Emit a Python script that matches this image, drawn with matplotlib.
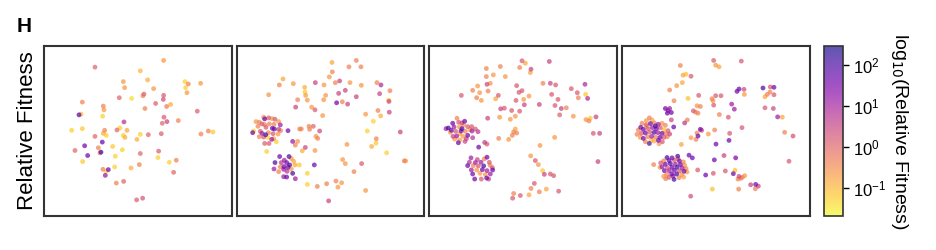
import numpy as np
import matplotlib
matplotlib.use("Agg")
import matplotlib.pyplot as plt
from matplotlib.colors import LogNorm
from matplotlib.cm import ScalarMappable

plt.rcParams['font.family'] = ['Liberation Sans', 'DejaVu Sans']

# embedding coordinates (dim1, dim2) and relative fitness of each cell, one list per time point
pts1 = [
    (15.3, 44.3, 1.0), (35.9, 46.3, 0.22), (28.9, 43.2, 0.1), (23.8, 40.0, 0.22), (31.1, 40.5, 0.12),
    (24.2, 38.2, 0.22), (32.9, 37.9, 0.22), (42.3, 40.0, 0.05), (43.3, 39.3, 0.4), (47.0, 39.5, 0.2),
    (42.5, 38.2, 0.05), (42.9, 36.7, 0.22), (30.0, 36.3, 1.0), (29.7, 35.8, 0.4), (22.6, 35.2, 1.0),
    (26.3, 35.0, 0.04), (35.9, 35.9, 1.5), (35.8, 34.7, 2.0), (33.5, 33.5, 1.2), (11.5, 33.9, 0.4),
    (17.8, 32.7, 0.4), (18.0, 31.6, 0.2), (30.3, 32.0, 0.4), (36.8, 32.6, 0.5), (38.0, 33.2, 0.12),
    (46.0, 31.2, 1.3), (10.5, 30.1, 60), (11.1, 30.3, 0.1), (17.6, 29.7, 0.05), (36.0, 29.4, 1.5),
    (35.5, 27.6, 1.0), (36.9, 28.1, 3), (40.3, 28.4, 0.4), (24.0, 28.0, 6), (8.3, 25.5, 0.05),
    (11.5, 26.0, 0.06), (18.2, 25.5, 0.4), (17.8, 24.6, 0.12), (18.7, 24.0, 0.05), (21.9, 25.6, 1.0),
    (22.8, 26.2, 0.05), (24.9, 25.5, 0.15), (23.8, 24.0, 0.05), (24.3, 23.4, 0.12), (15.3, 23.7, 1.0),
    (28.9, 24.3, 0.05), (31.3, 24.2, 1.0), (35.2, 24.5, 1.2), (27.9, 22.8, 0.12), (47.1, 24.4, 0.4),
    (49.3, 25.3, 0.4), (50.7, 25.0, 0.06), (17.5, 22.0, 50), (12.2, 20.9, 40), (16.3, 20.3, 0.4),
    (20.6, 20.7, 0.06), (23.5, 19.7, 0.05), (9.3, 19.5, 1.0), (17.1, 19.0, 100), (16.8, 18.8, 0.4),
    (13.1, 18.0, 40), (28.9, 18.6, 1.0), (34.4, 19.3, 1.3), (21.4, 17.8, 0.05), (34.2, 17.4, 0.05),
    (11.6, 16.2, 0.06), (28.6, 15.3, 0.4), (37.6, 16.0, 0.05), (39.7, 16.6, 0.4), (21.2, 14.6, 0.05),
    (26.1, 14.3, 0.12), (17.7, 13.9, 0.4), (19.3, 13.8, 40), (18.7, 13.3, 0.05), (18.4, 12.1, 15),
    (38.9, 13.0, 1.0), (21.7, 9.8, 0.4), (23.9, 10.3, 1.0), (27.8, 4.8, 1.3), (29.6, 5.3, 1.8),
]

pts2 = [
    (28.6, 45.7, 0.15), (35.9, 46.3, 0.4), (33.7, 44.4, 0.4), (37.3, 44.4, 0.4), (28.7, 42.9, 0.4),
    (13.9, 40.8, 0.15), (27.8, 41.4, 0.22), (12.8, 39.0, 0.4), (17.0, 39.4, 0.22), (23.6, 39.7, 3),
    (26.2, 39.0, 0.22), (29.6, 39.7, 0.4), (30.9, 40.2, 3), (34.0, 39.7, 0.22), (37.4, 38.9, 0.22),
    (42.1, 39.7, 0.4), (43.3, 39.0, 8), (20.4, 38.3, 0.12), (20.5, 36.9, 0.06), (20.7, 35.9, 0.2),
    (32.6, 37.4, 3), (30.6, 36.5, 3), (26.7, 35.9, 0.22), (46.0, 37.3, 0.4), (42.9, 36.4, 3),
    (35.9, 35.5, 3), (9.6, 36.1, 0.22), (18.3, 34.6, 0.4), (21.2, 34.5, 0.22), (26.1, 34.6, 0.22),
    (30.0, 33.7, 40), (31.7, 34.0, 0.4), (33.3, 33.3, 3), (45.7, 34.1, 3), (45.6, 34.5, 0.05),
    (17.7, 32.4, 3), (22.5, 32.4, 0.22), (23.5, 31.6, 1.5), (42.4, 31.4, 0.4), (45.8, 30.9, 3),
    (38.7, 30.3, 0.22), (43.2, 29.8, 0.12), (25.8, 29.9, 0.22), (41.0, 28.2, 0.05), (39.2, 25.3, 0.05),
    (49.1, 25.0, 3), (41.9, 23.0, 0.4), (41.8, 21.7, 0.06), (40.5, 20.7, 0.12), (45.0, 18.8, 0.05),
    (50.3, 16.4, 0.4), (50.7, 16.4, 0.22), (21.7, 26.7, 0.4), (23.0, 26.7, 1.0), (21.9, 25.8, 0.4),
    (24.9, 25.3, 2.5), (18.9, 25.9, 0.4), (19.4, 25.9, 0.4), (15.4, 25.4, 40), (23.8, 23.7, 0.22),
    (24.3, 23.1, 0.4), (16.8, 22.2, 15), (18.3, 22.2, 0.22), (17.6, 21.1, 0.4), (20.6, 20.4, 3),
    (19.7, 19.4, 0.12), (23.5, 19.5, 0.22), (33.1, 21.3, 0.22), (31.8, 16.8, 0.22), (32.6, 15.6, 0.22),
    (37.5, 15.6, 1.5), (35.2, 13.2, 0.4), (23.3, 15.2, 40), (21.2, 12.7, 0.05), (17.6, 11.1, 12),
    (21.2, 9.4, 0.05), (24.2, 8.8, 0.4), (27.0, 9.6, 0.4), (29.8, 10.4, 0.4), (31.5, 9.9, 0.22),
    (30.4, 8.6, 0.22), (38.7, 7.6, 0.22), (27.6, 4.5, 3),
    # cluster A
    (8.1, 29.4, 0.22), (8.4, 28.9, 40), (9.6, 29.2, 1.5), (10.6, 29.0, 0.22), (11.5, 28.8, 1.5),
    (6.8, 27.9, 0.4), (5.8, 28.1, 0.22), (7.6, 27.4, 1.5), (8.4, 27.2, 0.4), (9.8, 27.4, 0.4),
    (11.2, 27.3, 0.4), (12.6, 28.1, 0.22), (13.1, 27.1, 12), (6.4, 26.7, 0.4), (8.8, 26.4, 1.5),
    (10.7, 26.1, 40), (11.3, 25.9, 50), (12.6, 25.8, 3), (13.2, 25.4, 0.4), (4.8, 24.8, 40),
    (5.1, 25.3, 0.05), (7.1, 25.2, 1.5), (7.6, 24.6, 12), (8.7, 24.2, 100), (9.5, 24.8, 0.4),
    (10.9, 24.5, 1.5), (12.4, 24.4, 0.22), (6.8, 23.6, 0.4), (8.1, 23.5, 1.5), (9.3, 23.4, 0.05),
    (10.5, 22.8, 12), (11.9, 22.1, 0.05), (8.4, 21.6, 1.2), (9.7, 21.6, 1.5), (11.1, 23.0, 0.22),
    (9.0, 19.2, 0.05),
    # cluster B
    (12.9, 17.7, 40), (15.7, 17.7, 100), (16.4, 17.1, 0.22), (14.3, 16.6, 12), (17.1, 16.3, 0.15),
    (11.5, 15.9, 100), (13.4, 15.9, 5), (15.0, 15.9, 40), (15.9, 15.2, 100), (17.5, 15.2, 0.15),
    (18.8, 15.2, 0.06), (13.1, 14.6, 0.4), (14.2, 14.7, 40), (15.4, 14.5, 40), (11.2, 14.0, 12),
    (14.1, 13.9, 12), (16.4, 14.0, 0.22), (15.1, 13.3, 5), (16.8, 12.7, 100), (14.1, 11.7, 12),
    (15.0, 11.6, 40), (12.6, 13.2, 0.4),
]

pts3 = [
    (27.8, 46.2, 1.5), (28.8, 45.5, 0.15), (36.0, 46.0, 3), (21.3, 44.5, 0.4), (27.1, 44.2, 0.4),
    (30.5, 43.7, 3), (30.3, 42.7, 0.15), (17.1, 43.9, 0.4), (19.2, 42.0, 0.22), (22.8, 41.5, 0.22),
    (17.1, 41.5, 0.4), (18.3, 39.5, 0.22), (17.3, 39.2, 3), (26.2, 38.8, 1.5), (34.1, 39.5, 0.4),
    (36.3, 39.5, 3), (37.9, 39.0, 1.5), (42.6, 37.9, 1.5), (46.7, 39.2, 8), (14.5, 38.7, 0.22),
    (13.0, 37.4, 0.4), (15.1, 36.7, 0.22), (17.6, 37.2, 0.4), (9.6, 35.9, 1.5), (26.9, 36.8, 1.5),
    (27.8, 37.3, 1.5), (29.9, 35.7, 0.22), (20.7, 35.9, 1.5), (14.2, 35.2, 0.4), (15.6, 34.4, 0.22),
    (19.9, 34.9, 0.15), (26.0, 34.4, 1.5), (28.3, 34.7, 0.22), (36.7, 36.2, 1.5), (44.4, 36.7, 1.5),
    (44.7, 35.2, 0.4), (46.9, 36.2, 0.06), (47.5, 35.0, 8), (28.5, 33.1, 3), (33.0, 33.2, 3),
    (38.6, 34.7, 1.5), (37.7, 32.9, 1.5), (39.6, 32.0, 3), (41.1, 32.2, 0.4), (21.4, 31.9, 3),
    (22.5, 32.1, 1.5), (24.7, 31.4, 1.5), (27.1, 31.2, 1.5), (39.1, 30.1, 1.2), (43.2, 29.7, 0.22),
    (47.0, 28.7, 0.22), (47.9, 28.3, 0.4), (48.3, 29.1, 0.06), (50.0, 29.5, 3), (17.5, 29.1, 3),
    (21.1, 29.4, 0.22), (24.3, 28.8, 0.22), (25.8, 29.7, 0.22), (25.8, 25.9, 0.15), (25.3, 25.0, 0.4),
    (26.2, 24.7, 0.4), (24.9, 24.0, 0.4), (23.8, 22.8, 0.22), (20.8, 23.1, 0.4), (37.6, 23.4, 0.22),
    (49.2, 24.6, 1.5), (51.1, 24.6, 3), (16.6, 21.9, 4), (17.3, 21.4, 1.5), (14.8, 20.5, 40),
    (33.2, 21.0, 0.22), (30.4, 17.9, 0.22), (31.8, 16.5, 1.5), (32.7, 15.3, 0.22), (50.6, 16.2, 3),
    (34.0, 13.5, 0.06), (34.5, 12.4, 3), (36.3, 12.5, 1.5), (37.3, 12.0, 1.5), (31.5, 9.7, 1.5),
    (30.5, 8.2, 0.4), (35.1, 8.0, 0.15), (33.0, 7.2, 0.4), (38.8, 7.4, 1.5), (29.9, 6.3, 0.15),
    (27.3, 6.1, 1.5), (25.3, 6.7, 0.4), (25.0, 5.3, 1.5),
    # cluster A
    (8.3, 29.1, 0.4), (7.0, 27.6, 40), (8.8, 27.9, 1.5), (9.8, 27.7, 3), (10.6, 28.2, 40),
    (10.3, 27.1, 0.22), (5.7, 26.2, 100), (7.4, 26.5, 12), (9.0, 26.5, 0.22), (11.5, 26.6, 1.5),
    (12.7, 26.6, 1.5), (14.6, 25.1, 5), (6.3, 24.9, 0.22), (7.9, 25.2, 1.5), (9.5, 25.3, 40),
    (10.8, 25.2, 0.4), (12.8, 25.3, 12), (7.1, 23.7, 3), (8.2, 23.8, 12), (10.1, 23.7, 0.22),
    (11.5, 24.0, 40), (13.0, 23.3, 5), (9.1, 22.6, 0.22), (7.6, 22.9, 0.2), (8.7, 21.8, 40),
    (10.7, 22.2, 3), (12.2, 25.7, 0.22), (6.6, 25.5, 40), (9.2, 24.5, 0.15), (11.1, 23.0, 3),
    (5.0, 26.0, 12), (13.8, 25.9, 1.5), (9.8, 26.0, 100),
    # cluster B
    (12.5, 17.3, 12), (14.4, 16.8, 3), (17.3, 17.5, 40), (13.8, 15.9, 12), (15.5, 16.0, 12),
    (18.0, 16.0, 1.5), (11.5, 15.0, 40), (13.2, 15.0, 0.4), (14.7, 14.9, 1.5), (16.3, 14.9, 100),
    (18.2, 15.1, 0.4), (18.9, 14.4, 1.5), (12.6, 13.7, 12), (14.2, 13.7, 0.22), (15.9, 13.8, 40),
    (17.3, 13.5, 12), (19.0, 13.7, 40), (13.0, 12.5, 40), (15.2, 12.7, 0.22), (16.8, 12.3, 0.22),
    (18.3, 12.5, 12), (13.6, 11.0, 40), (15.6, 11.0, 1.5), (17.2, 11.3, 40), (12.0, 16.0, 5),
    (16.5, 17.0, 0.4), (17.8, 11.0, 3),
]

pts4 = [
    (27.5, 46.3, 1.5), (35.8, 46.1, 1.5), (28.1, 44.9, 0.22), (29.1, 44.4, 0.15), (17.5, 44.8, 0.4),
    (18.3, 41.9, 0.15), (19.2, 42.2, 0.08), (20.7, 41.6, 1.5), (18.1, 39.7, 0.15), (16.4, 38.8, 0.22),
    (14.3, 37.5, 0.4), (42.3, 38.1, 100), (44.5, 38.4, 1.5), (45.6, 38.3, 40), (35.1, 37.8, 40),
    (34.5, 37.1, 40), (36.6, 37.7, 2.5), (36.7, 36.2, 0.22), (44.4, 36.9, 0.4), (43.6, 36.2, 0.4),
    (42.9, 35.5, 0.15), (45.6, 36.1, 1.5), (23.0, 35.9, 1.5), (28.1, 35.8, 1.5), (29.7, 35.8, 1.5),
    (27.0, 34.9, 0.4), (27.3, 34.3, 0.22), (15.6, 34.3, 0.4), (19.8, 35.0, 0.08), (22.5, 32.8, 0.22),
    (23.5, 32.6, 0.4), (27.5, 33.0, 1.5), (32.9, 33.3, 12), (33.7, 31.8, 12), (42.9, 32.2, 1.5),
    (45.4, 32.0, 2.5), (13.0, 32.0, 40), (13.8, 31.4, 12), (14.8, 30.8, 40), (13.6, 30.6, 40),
    (14.3, 32.0, 12), (21.4, 31.3, 1.5), (22.1, 30.9, 0.4), (22.8, 30.6, 0.4), (29.2, 30.2, 0.4),
    (31.9, 29.4, 1.5), (46.7, 29.5, 12), (48.1, 29.4, 0.15), (14.8, 28.6, 3), (19.6, 28.6, 0.4),
    (18.8, 27.7, 5), (15.5, 26.5, 40), (23.5, 25.8, 40), (23.9, 25.5, 2.5), (22.5, 24.7, 0.4),
    (25.9, 24.4, 0.2), (27.8, 25.6, 0.4), (32.3, 24.6, 1.5), (36.0, 26.3, 1.5), (48.8, 24.9, 0.4),
    (51.3, 23.8, 2), (22.8, 23.8, 40), (20.7, 23.3, 0.22), (22.2, 22.8, 0.4), (13.6, 23.6, 0.4),
    (17.8, 21.3, 0.15), (28.2, 21.4, 40), (32.1, 22.5, 40), (20.1, 18.1, 40), (21.1, 17.3, 40),
    (30.6, 18.0, 3), (27.7, 16.7, 40), (34.1, 17.3, 30), (50.1, 16.3, 1.5), (22.7, 13.7, 1.5),
    (31.0, 13.4, 1.5), (33.9, 13.6, 0.08), (25.1, 12.2, 40), (27.4, 12.7, 1.5), (33.4, 12.6, 40),
    (35.1, 11.8, 2.5), (35.6, 11.2, 0.4), (36.8, 12.0, 0.22), (36.1, 11.5, 0.4), (34.8, 11.0, 0.4),
    (38.6, 9.3, 3), (40.1, 9.4, 40), (40.9, 8.9, 3), (40.0, 8.1, 0.4), (35.0, 8.0, 0.4),
    (27.1, 8.0, 0.08), (20.6, 5.9, 2), (9.5, 15.3, 0.4), (11.4, 14.5, 0.22),
    # cluster A
    (8.2, 29.2, 0.4), (9.0, 28.6, 0.15), (7.3, 28.4, 0.22), (6.0, 27.6, 0.4), (5.6, 26.4, 40),
    (7.2, 27.1, 1.5), (8.5, 27.5, 40), (9.7, 27.7, 0.4), (10.9, 27.3, 12), (12.0, 27.6, 0.22),
    (13.0, 27.0, 0.4), (4.9, 25.6, 0.4), (6.4, 25.8, 40), (7.8, 26.0, 1.5), (9.1, 26.3, 12),
    (10.3, 26.0, 40), (11.5, 26.3, 1.5), (12.6, 25.7, 0.08), (13.8, 25.4, 1.5), (4.5, 24.3, 0.4),
    (5.8, 24.6, 1.5), (7.0, 24.7, 40), (8.3, 25.0, 1.5), (9.6, 24.9, 100), (10.8, 24.8, 12),
    (12.0, 24.6, 40), (13.1, 24.5, 0.4), (14.3, 24.4, 3), (5.5, 23.4, 0.22), (6.4, 23.1, 40),
    (7.7, 23.6, 0.4), (8.9, 23.7, 12), (10.1, 23.5, 0.4), (11.4, 23.4, 40), (12.6, 23.4, 1.5),
    (7.0, 22.1, 0.4), (8.2, 21.6, 100), (9.6, 22.3, 0.15), (10.9, 22.5, 40), (12.1, 22.1, 1.5),
    (11.1, 21.5, 0.22), (7.5, 26.7, 0.08), (10.0, 26.8, 100), (8.7, 22.6, 0.08),
    # cluster B
    (13.5, 17.4, 100), (15.0, 17.3, 40), (16.7, 17.8, 100), (12.5, 16.4, 0.4), (14.1, 16.5, 40),
    (15.7, 16.6, 1.5), (17.2, 16.4, 40), (18.4, 16.1, 0.4), (13.0, 15.4, 40), (14.5, 15.6, 100),
    (16.0, 15.4, 12), (17.5, 15.3, 40), (18.8, 15.1, 0.22), (12.0, 14.6, 12), (13.6, 14.4, 1.5),
    (15.0, 14.5, 40), (16.5, 14.5, 100), (18.0, 14.3, 12), (19.2, 14.1, 0.4), (12.7, 13.5, 40),
    (14.2, 13.5, 12), (15.7, 13.6, 40), (17.2, 13.4, 1.5), (18.6, 13.3, 40), (13.4, 12.4, 0.4),
    (14.9, 12.5, 40), (16.4, 12.5, 100), (17.9, 12.3, 0.22), (14.1, 11.5, 1.5), (15.6, 10.9, 100),
    (17.1, 11.4, 0.4), (18.5, 11.6, 0.15), (12.5, 11.8, 0.22), (11.6, 15.8, 1.5), (15.3, 11.9, 12),
    (16.8, 17.0, 0.4), (19.5, 13.1, 0.22), (13.1, 11.1, 0.4),
]

panels = [pts1, pts2, pts3, pts4]
fit_min, fit_max = 0.02, 300
cbar_ticks = [0.1, 1, 10, 100]

cmap = plt.get_cmap('plasma_r')
norm = LogNorm(vmin=fit_min, vmax=fit_max)

fig = plt.figure(figsize=(9.36, 2.5), dpi=100)
gs = fig.add_gridspec(1, 4, left=0.047, right=0.865, bottom=0.136, top=0.816, wspace=0.027)

for i, pts in enumerate(panels):
    ax = fig.add_subplot(gs[0, i])
    arr = np.array(pts)
    order = np.argsort(arr[:, 2])  # high fitness drawn on top
    arr = arr[order]
    ax.scatter(arr[:, 0], arr[:, 1], c=arr[:, 2], cmap=cmap, norm=norm,
               s=12, alpha=0.7, linewidths=0)
    ax.set_xlim(0, 56.3)
    ax.set_ylim(0, 50.6)
    ax.set_xticks([])
    ax.set_yticks([])
    for sp in ax.spines.values():
        sp.set_color('#333333')
        sp.set_linewidth(1.5)
    if i == 0:
        ax.set_ylabel('Relative Fitness', fontsize=16, labelpad=4)

cax = fig.add_axes([824 / 936, 0.136, 19 / 936, 0.68])
sm = ScalarMappable(norm=norm, cmap=cmap)
cb = fig.colorbar(sm, cax=cax, ticks=cbar_ticks, alpha=0.68)
cb.ax.minorticks_off()
cb.ax.tick_params(labelsize=12, length=4, width=1)
cb.outline.set_linewidth(1.2)
cb.outline.set_edgecolor('#333333')
cb.set_label('log$_{10}$(Relative Fitness)', rotation=270, fontsize=14, labelpad=17)

fig.text(17 / 936, 1 - 26 / 250, 'H', fontsize=15, fontweight='bold', va='center', ha='left')

fig.savefig('out.png', dpi=100)
